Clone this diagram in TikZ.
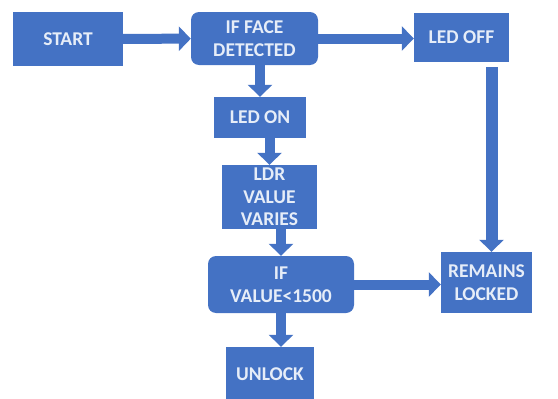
\documentclass[tikz,border=0pt]{standalone}
\usepackage{fontspec}
\setmainfont{Carlito}
\usetikzlibrary{arrows.meta}
\definecolor{boxblue}{HTML}{4472C4}
\definecolor{boxtext}{HTML}{E6EDF8}
\newcommand{\arw}{-{Triangle[width=24pt,length=12pt]}}

\begin{document}
\begin{tikzpicture}[x=1pt,y=-1pt,
  box/.style={fill=boxblue,text=boxtext,align=center,inner sep=0pt,
    font=\bfseries\fontsize{19.5}{22.5}\selectfont},
  flow/.style={draw=boxblue,line width=10pt,\arw}]
\useasboundingbox (0,0) rectangle (558,399);
%top row
\node[box,minimum width=110,minimum height=54] (start) at (68,39) {START};
\node[box,rounded corners=8pt,minimum width=127,minimum height=53] (face) at (254.5,38.5) {IF FACE\\DETECTED};
\node[box,minimum width=95,minimum height=49] (ledoff) at (461.5,37.5) {LED OFF};
%middle column
\node[box,minimum width=92,minimum height=41] (ledon) at (260,117.5) {LED ON};
\node[box,minimum width=95,minimum height=64] (ldr) at (269.5,197) {LDR\\VALUE\\VARIES};
\node[box,rounded corners=8pt,minimum width=146,minimum height=57] (ifval) at (281,284.5) {IF\\VALUE<1500};
\node[box,minimum width=88,minimum height=54] (unlock) at (270,374) {UNLOCK};
\node[box,minimum width=91,minimum height=61] (remains) at (486.5,282.5) {REMAINS\\LOCKED};
%arrows
\draw[flow] (start) -- (face);
\draw[flow] (face.east) -- (face.east -| ledoff.west);
\draw[flow] (face.south -| ledon.north) -- (ledon.north);
\draw[flow] (ledon.south -| ldr.north) -- (ldr.north);
\draw[flow] (ldr.south -| ifval.north) -- (ifval.north);
\draw[flow] (ifval.south) -- (ifval.south |- unlock.north);
\draw[flow] (ifval.east) -- (ifval.east -| remains.west);
\draw[flow,line width=12pt,shorten <=5pt] ([xshift=5pt]ledoff.south -| remains.north) -- ([xshift=5pt]remains.north);
\end{tikzpicture}
\end{document}
